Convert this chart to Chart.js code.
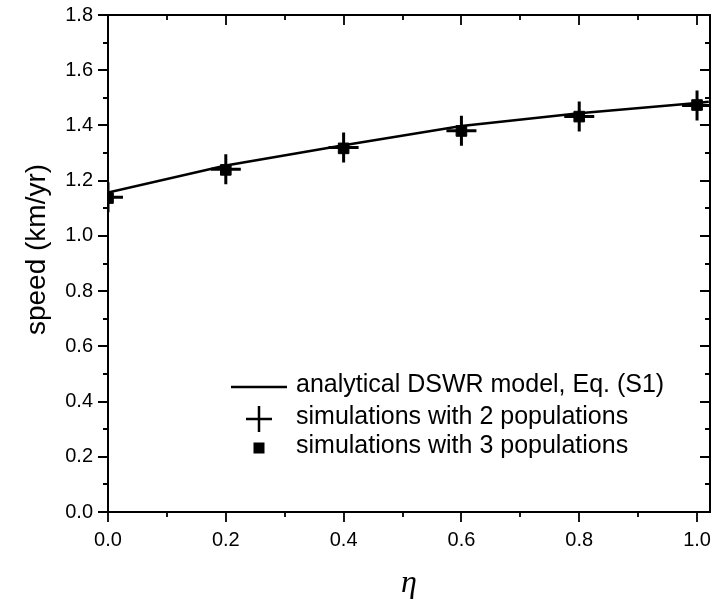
<!DOCTYPE html>
<html>
<head>
<meta charset="utf-8">
<script src="https://cdn.jsdelivr.net/npm/chart.js@4.4.0/dist/chart.umd.min.js"></script>
<style>
    html, body { margin: 0; padding: 0; background: #fff; }
</style>
</head>
<body>
<canvas id="grafico" width="711" height="603"></canvas>
<script>
// Dados >>>>>>>>>>>>>>>>>>>>>>>>>>>>>>>>>>>>>>>>>>>>>>>>>>>>>
const etaModelo = [0, 0.2, 0.4, 0.6, 0.8, 1.0, 1.02];
const velModelo = [1.157, 1.255, 1.328, 1.398, 1.444, 1.481, 1.486];

const etaSim = [0, 0.2, 0.4, 0.6, 0.8, 1.0];
const vel2Pop = [1.140, 1.241, 1.320, 1.381, 1.432, 1.472];
const vel3Pop = [1.137, 1.239, 1.317, 1.380, 1.432, 1.474];

const rotulos = [
    "analytical DSWR model, Eq. (S1)",
    "simulations with 2 populations",
    "simulations with 3 populations",
];
const tituloY = "speed (km/yr)";
const tituloX = "η";

const FONTE = "'Liberation Sans', Arial, sans-serif";

function pontos(xs, ys) {
    return xs.map((x, i) => ({ x: x, y: ys[i] }));
}

// marca maior a cada 0.2, menor a cada 0.1
function ehMaior(v) {
    return Math.abs(v * 5 - Math.round(v * 5)) < 1e-6;
}

// sem folga extra dos rótulos (a área do gráfico fica fixa)
function semFolga(s) {
    s.paddingLeft = 0;
    s.paddingRight = 0;
    s.paddingTop = 0;
    s.paddingBottom = 0;
}

// moldura + ticks (para fora embaixo/esquerda, para dentro em cima/direita)
const eixos = {
    id: "eixos",
    afterDatasetsDraw(chart) {
        const { ctx, chartArea: a, scales } = chart;
        ctx.save();
        ctx.strokeStyle = "#000";
        ctx.lineWidth = 1.8;
        ctx.beginPath();
        scales.x.ticks.forEach((t) => {
            const px = Math.round(scales.x.getPixelForValue(t.value));
            const len = ehMaior(t.value) ? 10 : 5;
            ctx.moveTo(px, a.bottom);
            ctx.lineTo(px, a.bottom + len);
            ctx.moveTo(px, a.top);
            ctx.lineTo(px, a.top + len);
        });
        scales.y.ticks.forEach((t) => {
            const py = Math.round(scales.y.getPixelForValue(t.value));
            const len = ehMaior(t.value) ? 10 : 5;
            ctx.moveTo(a.left, py);
            ctx.lineTo(a.left - len, py);
            ctx.moveTo(a.right, py);
            ctx.lineTo(a.right - len, py);
        });
        ctx.stroke();
        ctx.lineWidth = 2;
        ctx.strokeRect(a.left, a.top, a.right - a.left, a.bottom - a.top);

        // título do eixo y (um pouco acima do centro, como no original)
        ctx.fillStyle = "#000";
        ctx.font = "28px " + FONTE;
        ctx.textAlign = "center";
        ctx.textBaseline = "middle";
        ctx.translate(37, (a.top + a.bottom) / 2 - 14);
        ctx.rotate(-Math.PI / 2);
        ctx.fillText(tituloY, 0, 0);
        ctx.restore();
    },
};

// legenda dentro da área do gráfico, canto inferior direito
const legenda = {
    id: "legenda",
    afterDraw(chart) {
        const { ctx, chartArea: a } = chart;
        const xa = a.left + 123; // início da amostra
        const xc = xa + 28; // centro da amostra
        const xt = a.left + 188; // início do texto
        const linhas = [a.bottom - 125, a.bottom - 93, a.bottom - 64];
        ctx.save();
        ctx.strokeStyle = "#000";
        ctx.fillStyle = "#000";
        // linha
        ctx.lineWidth = 2.5;
        ctx.beginPath();
        ctx.moveTo(xa, linhas[0]);
        ctx.lineTo(xa + 56, linhas[0]);
        ctx.stroke();
        // cruz
        ctx.lineWidth = 2.5;
        ctx.beginPath();
        ctx.moveTo(xc - 13, linhas[1]);
        ctx.lineTo(xc + 13, linhas[1]);
        ctx.moveTo(xc, linhas[1] - 13);
        ctx.lineTo(xc, linhas[1] + 13);
        ctx.stroke();
        // quadrado
        ctx.fillRect(xc - 5.5, linhas[2] - 5.5, 11, 11);
        // textos
        ctx.font = "25px " + FONTE;
        ctx.textBaseline = "middle";
        ctx.textAlign = "left";
        rotulos.forEach((r, i) => ctx.fillText(r, xt, linhas[i] - 2));
        ctx.restore();
    },
};

const ctx = document.getElementById("grafico").getContext("2d");

new Chart(ctx, {
    type: "scatter",
    data: {
        datasets: [
            {
                label: rotulos[0],
                data: pontos(etaModelo, velModelo),
                showLine: true,
                borderColor: "#000",
                borderWidth: 2.5,
                pointRadius: 0,
                tension: 0,
                order: 1,
            },
            {
                label: rotulos[1],
                data: pontos(etaSim, vel2Pop),
                pointStyle: "cross",
                pointRadius: 15,
                borderColor: "#000",
                borderWidth: 3,
                order: 2,
            },
            {
                label: rotulos[2],
                data: pontos(etaSim, vel3Pop),
                pointStyle: "rect",
                pointRadius: 7.5,
                backgroundColor: "#000",
                borderColor: "#000",
                borderWidth: 1,
                order: 3,
            },
        ],
    },
    options: {
        responsive: false,
        animation: false,
        devicePixelRatio: 1,
        layout: {
            autoPadding: false,
            padding: { top: 15, right: 1, left: 0, bottom: 0 },
        },
        plugins: {
            legend: { display: false },
            tooltip: { enabled: false },
        },
        scales: {
            x: {
                type: "linear",
                min: 0,
                max: 1.022,
                grid: { display: false, drawTicks: false },
                border: { display: false },
                ticks: {
                    stepSize: 0.1,
                    includeBounds: false,
                    autoSkip: false,
                    maxRotation: 0,
                    padding: 16,
                    color: "#000",
                    font: { family: FONTE, size: 20 },
                    callback: (v) => (ehMaior(v) ? v.toFixed(1) : ""),
                },
                title: {
                    display: true,
                    text: tituloX,
                    color: "#000",
                    font: { family: "'Liberation Serif', 'Times New Roman', serif", size: 32, style: "italic" },
                    padding: { top: 0, bottom: 0 },
                },
                afterFit: (s) => { s.height = 91; semFolga(s); },
            },
            y: {
                type: "linear",
                min: 0,
                max: 1.8,
                grid: { display: false, drawTicks: false },
                border: { display: false },
                ticks: {
                    stepSize: 0.1,
                    autoSkip: false,
                    padding: 15,
                    color: "#000",
                    font: { family: FONTE, size: 20 },
                    callback: (v) => (ehMaior(v) ? v.toFixed(1) : ""),
                },
                afterFit: (s) => { s.width = 108; semFolga(s); },
            },
        },
    },
    plugins: [eixos, legenda],
});
</script>
</body>
</html>
